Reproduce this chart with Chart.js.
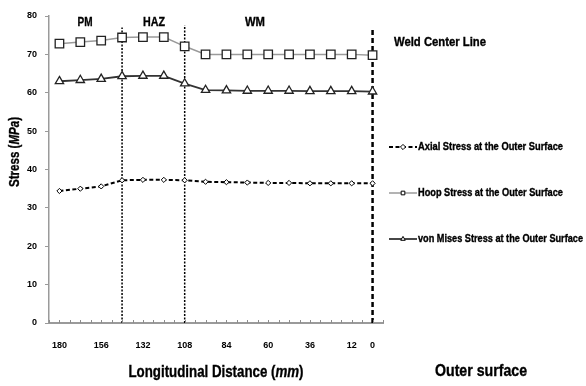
<!DOCTYPE html>
<html>
<head>
<meta charset="utf-8">
<script src="https://cdn.jsdelivr.net/npm/chart.js@4.4.1/dist/chart.umd.min.js"></script>
<style>
  html, body { margin: 0; padding: 0; background: #fff; }
  #wrap { width: 586px; height: 386px; }
</style>
</head>
<body>
<div id="wrap"><canvas id="chart" width="586" height="386"></canvas></div>
<script>
// longitudinal distance from the weld centre (mm)
const distances = [180, 168, 156, 144, 132, 120, 108, 96, 84, 72, 60, 48, 36, 24, 12, 0];

// stresses at the outer surface (MPa)
const axialStress = [34.4, 35.0, 35.6, 37.2, 37.3, 37.3, 37.2, 36.8, 36.7, 36.6, 36.5, 36.5, 36.4, 36.4, 36.4, 36.4];
const hoopStress  = [72.8, 73.2, 73.6, 74.4, 74.5, 74.5, 72.1, 70.0, 70.0, 70.0, 70.0, 70.0, 70.0, 70.0, 70.0, 69.8];
const misesStress = [63.0, 63.3, 63.6, 64.3, 64.4, 64.4, 62.4, 60.7, 60.6, 60.5, 60.5, 60.5, 60.4, 60.4, 60.4, 60.3];

const seriesNames = [
  "Axial Stress at the Outer Surface",
  "Hoop Stress at the Outer Surface",
  "von Mises Stress at the Outer Surface"
];

const xTickLabels = [180, 156, 132, 108, 84, 60, 36, 12, 0];
const xMinorStep = 6;
const yTickStep = 10;

// PM | HAZ | WM boundaries and the weld centre line
const zoneBounds = [144, 108];
const weldCenter = 0;
const zoneNames = ["PM", "HAZ", "WM"];

const FONT = '"Liberation Sans", Arial, sans-serif';

const pairs = (ys) => distances.map((d, i) => ({ x: d, y: ys[i] }));
const vline = (x, top) => [{ x: x, y: 0 }, { x: x, y: top }];

// bold text, squeezed horizontally to a given width
function drawRich(ctx, parts, x, y, size, opts) {
  const o = opts || {};
  ctx.save();
  const fonts = parts.map(p => (p.italic ? "italic " : "") + "bold " + size + "px " + FONT);
  let total = 0;
  const ws = parts.map((p, i) => {
    ctx.font = fonts[i];
    const w = ctx.measureText(p.text).width;
    total += w;
    return w;
  });
  const sx = o.width ? o.width / total : (o.scaleX || 1);
  ctx.translate(x, y);
  if (o.angle) ctx.rotate(o.angle);
  ctx.scale(sx, 1);
  ctx.textBaseline = "middle";
  ctx.textAlign = "left";
  ctx.fillStyle = "#000";
  ctx.strokeStyle = "#000";
  ctx.lineWidth = 0.35;
  let px = o.align === "left" ? 0 : -total / 2;
  parts.forEach((p, i) => {
    ctx.font = fonts[i];
    ctx.fillText(p.text, px, 0);
    ctx.strokeText(p.text, px, 0);
    px += ws[i];
  });
  ctx.restore();
}

function marker(ctx, style, r, x, y) {
  if (Chart.helpers && Chart.helpers.drawPoint) {
    Chart.helpers.drawPoint(ctx, { pointStyle: style, radius: r, rotation: 0, borderWidth: 1 }, x, y);
    return;
  }
  ctx.beginPath();
  ctx.rect(x - r * 0.7, y - r * 0.7, r * 1.4, r * 1.4);
  ctx.fill();
  ctx.stroke();
}

const decorations = {
  id: "decorations",
  afterDraw(chart) {
    const ctx = chart.ctx;
    const xs = chart.scales.x;

    // small tick marks sitting inside the x axis
    ctx.save();
    ctx.strokeStyle = "#8c8c8c";
    ctx.lineWidth = 1;
    xs.ticks.forEach(t => {
      const px = Math.round(xs.getPixelForValue(t.value)) + 0.5;
      ctx.beginPath();
      ctx.moveTo(px, xs.top);
      ctx.lineTo(px, xs.top - 3);
      ctx.stroke();
    });
    ctx.restore();

    // zone names across the top
    drawRich(ctx, [{ text: zoneNames[0] }], 85, 22, 13, { width: 15 });
    drawRich(ctx, [{ text: zoneNames[1] }], 154, 22, 13, { width: 22 });
    drawRich(ctx, [{ text: zoneNames[2] }], 255, 22, 13, { width: 20 });
    drawRich(ctx, [{ text: "Weld Center Line" }], 394, 43, 12.5, { width: 92, align: "left" });

    // axis titles
    drawRich(ctx, [{ text: "Longitudinal Distance (" }, { text: "mm", italic: true }, { text: ")" }],
      216, 373, 16, { width: 175 });
    drawRich(ctx, [{ text: "Outer surface" }], 481, 372, 16, { width: 92 });
    drawRich(ctx, [{ text: "Stress (" }, { text: "MPa", italic: true }, { text: ")" }],
      15, 152, 14, { width: 70, angle: -Math.PI / 2 });

    // legend
    const rows = [147, 193, 239];
    const widths = [145, 145, 165];
    rows.forEach((cy, i) => {
      const ds = chart.data.datasets[i];
      ctx.save();
      ctx.strokeStyle = ds.borderColor;
      ctx.lineWidth = ds.borderWidth;
      ctx.setLineDash(ds.borderDash || []);
      ctx.beginPath();
      ctx.moveTo(389, cy);
      ctx.lineTo(417, cy);
      ctx.stroke();
      ctx.setLineDash([]);
      ctx.fillStyle = "#fff";
      ctx.strokeStyle = "#000";
      ctx.lineWidth = 1;
      marker(ctx, ds.pointStyle, 2.6, 403, cy);
      ctx.restore();
      drawRich(ctx, [{ text: ds.label }], 418, cy, 10, { width: widths[i], align: "left" });
    });
  }
};

new Chart(document.getElementById("chart"), {
  type: "line",
  data: {
    datasets: [
      {
        label: seriesNames[0],
        data: pairs(axialStress),
        borderColor: "#000",
        borderWidth: 2,
        borderDash: [4, 2.5],
        pointStyle: "rectRot",
        pointRadius: 2.6,
        pointBackgroundColor: "#fff",
        pointBorderColor: "#000",
        pointBorderWidth: 1
      },
      {
        label: seriesNames[1],
        data: pairs(hoopStress),
        borderColor: "#9a9a9a",
        borderWidth: 1.5,
        pointStyle: "rect",
        pointRadius: 6,
        pointBackgroundColor: "#fff",
        pointBorderColor: "#222",
        pointBorderWidth: 1.3
      },
      {
        label: seriesNames[2],
        data: pairs(misesStress),
        borderColor: "#333",
        borderWidth: 1.8,
        pointStyle: "triangle",
        pointRadius: 4.8,
        pointBackgroundColor: "#fff",
        pointBorderColor: "#222",
        pointBorderWidth: 1.3
      },
      {
        data: vline(zoneBounds[0], 77),
        borderColor: "#000",
        borderWidth: 1.5,
        borderDash: [2, 1.5],
        pointRadius: 0
      },
      {
        data: vline(zoneBounds[1], 77.6),
        borderColor: "#000",
        borderWidth: 1.5,
        borderDash: [2, 1.5],
        pointRadius: 0
      },
      {
        data: vline(weldCenter, 76.5),
        borderColor: "#000",
        borderWidth: 2.5,
        borderDash: [5, 3],
        pointRadius: 0
      }
    ]
  },
  options: {
    responsive: false,
    animation: false,
    layout: { padding: { top: 16, right: 203, left: 0, bottom: 0 } },
    plugins: { legend: { display: false }, tooltip: { enabled: false } },
    scales: {
      x: {
        type: "linear",
        reverse: true,
        min: -6,
        max: 186,
        afterFit: (s) => { s.height = 63; },
        afterBuildTicks: (s) => {
          const t = [];
          for (let v = -6; v <= 186; v += xMinorStep) t.push({ value: v });
          s.ticks = t;
        },
        border: { color: "#9a9a9a", width: 2 },
        grid: { display: true, drawOnChartArea: false, drawTicks: false },
        ticks: {
          autoSkip: false,
          maxRotation: 0,
          padding: 17,
          color: "#000",
          font: { family: FONT, size: 9, weight: "bold" },
          callback: (v) => xTickLabels.includes(v) ? String(v) : ""
        }
      },
      y: {
        min: 0,
        max: 80,
        afterFit: (s) => { s.width = 49; },
        border: { color: "#9a9a9a", width: 1.5 },
        grid: { drawOnChartArea: false, drawTicks: true, tickLength: 4, color: "#9a9a9a" },
        ticks: {
          stepSize: yTickStep,
          padding: 8,
          color: "#000",
          font: { family: FONT, size: 9, weight: "bold" }
        }
      }
    }
  },
  plugins: [decorations]
});
</script>
</body>
</html>
